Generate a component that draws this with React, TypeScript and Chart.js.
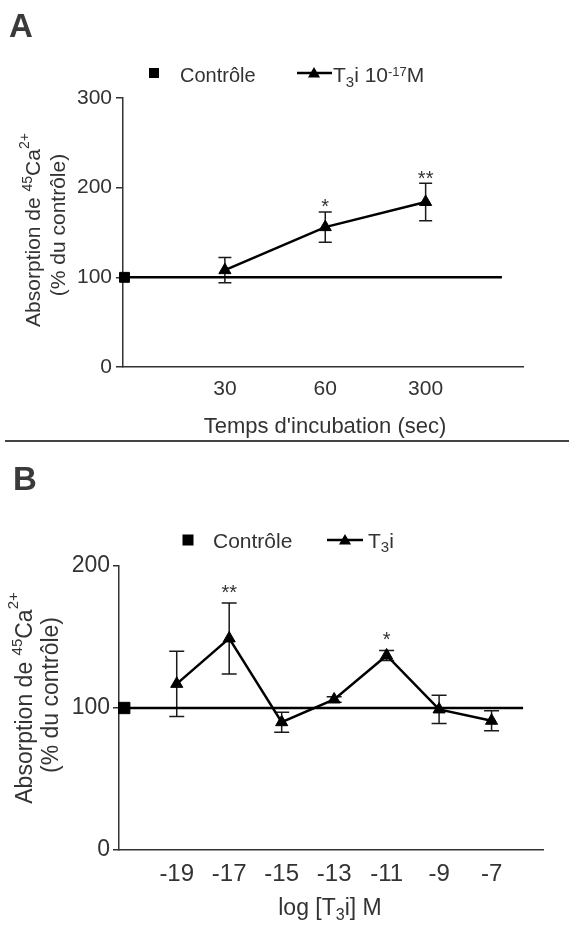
import React, { useEffect, useRef } from 'react';
import { Chart, registerables } from 'chart.js';

Chart.register(...registerables);

const FONT = "'Liberation Sans', Arial, Helvetica, sans-serif";
const INK = '#333333';

// ---------- Panel A data ----------
const timeLabelsA = ['30', '60', '300'];
const yTicksA = [0, 100, 200, 300];
const controlA = 100;
const controlEndA = 3.76;
const t3iA = [108, 156, 184];
const errA = [14, 17, 21];
const sigA = ['', '*', '**'];

// ---------- Panel B data ----------
const doseLabelsB = ['-19', '-17', '-15', '-13', '-11', '-9', '-7'];
const yTicksB = [0, 100, 200];
const controlB = 100;
const controlEndB = 7.6;
const t3iB = [117, 149, 90, 106, 137, 99, 91];
const errB = [23, 25, 7, 2, 3.5, 10, 7];
const sigB = ['', '**', '', '', '*', '', ''];

type Seg = { t: string; size: number; dy: number };

interface Panel {
  w: number; h: number;
  letter: string; letterX: number; letterY: number; letterSize: number;
  labels: string[]; yTicks: number[]; control: number; controlEnd: number;
  values: number[]; errs: number[]; sig: string[];
  yMax: number; xMin: number; xMax: number;
  padTop: number; padLeft: number; padRight: number; axisLeft: number; xAxisH: number;
  xTickSize: number; yTickSize: number; xTickPad: number; yTickPad: number; tickLen: number;
  xTitle: Seg[]; xTitleCX: number; xTitleBase: number;
  yTitle1: Seg[]; yTitle2: Seg[]; yTitleBase1: number; yTitleBase2: number; yTitleCY1: number; yTitleCY2: number;
  sqRadius: number; triRadius: number; cap: number; starSize: number; starGap: number;
  legend: {
    sqX: number; sq: number; symY: number; ctrlTextX: number; baseline: number; size: number;
    lineX0: number; lineX1: number; triX: number; triR: number; textX: number; segs: Seg[];
  };
}

function segsWidth(ctx: CanvasRenderingContext2D, segs: Seg[]) {
  let w = 0;
  for (const s of segs) {
    ctx.font = `${s.size}px ${FONT}`;
    w += ctx.measureText(s.t).width;
  }
  return w;
}

function drawSegs(ctx: CanvasRenderingContext2D, x: number, y: number, segs: Seg[]) {
  let cx = x;
  for (const s of segs) {
    ctx.font = `${s.size}px ${FONT}`;
    ctx.fillText(s.t, cx, y + s.dy);
    cx += ctx.measureText(s.t).width;
  }
}

function drawSegsCentered(ctx: CanvasRenderingContext2D, cx: number, y: number, segs: Seg[]) {
  const w = segsWidth(ctx, segs);
  drawSegs(ctx, cx - w / 2, y, segs);
}

function drawVertical(ctx: CanvasRenderingContext2D, baseX: number, cy: number, segs: Seg[]) {
  ctx.save();
  ctx.translate(baseX, cy);
  ctx.rotate(-Math.PI / 2);
  drawSegsCentered(ctx, 0, 0, segs);
  ctx.restore();
}

function triangle(ctx: CanvasRenderingContext2D, x: number, y: number, r: number) {
  ctx.beginPath();
  for (let k = 0; k < 3; k++) {
    const a = (k * 2 * Math.PI) / 3;
    const px = x + Math.sin(a) * r;
    const py = y - Math.cos(a) * r;
    if (k === 0) ctx.moveTo(px, py); else ctx.lineTo(px, py);
  }
  ctx.closePath();
  ctx.fill();
}

function makeChart(canvas: HTMLCanvasElement, p: Panel) {
  const xs = p.labels.map((_, i) => i + 1);
  const extras = {
    id: 'panelExtras',
    beforeDatasetsDraw(chart: any) {
      const { ctx, scales } = chart;
      const x = scales.x, y = scales.y;
      ctx.save();
      ctx.strokeStyle = '#1a1a1a';
      ctx.lineWidth = 1.5;
      p.values.forEach((v, i) => {
        const px = x.getPixelForValue(xs[i]);
        const top = y.getPixelForValue(v + p.errs[i]);
        const bot = y.getPixelForValue(v - p.errs[i]);
        ctx.beginPath();
        ctx.moveTo(px, top); ctx.lineTo(px, bot);
        ctx.moveTo(px - p.cap, top); ctx.lineTo(px + p.cap, top);
        ctx.moveTo(px - p.cap, bot); ctx.lineTo(px + p.cap, bot);
        ctx.stroke();
      });
      ctx.restore();
    },
    afterDraw(chart: any) {
      const { ctx, scales } = chart;
      const x = scales.x, y = scales.y;
      ctx.save();
      ctx.fillStyle = INK;
      ctx.textBaseline = 'alphabetic';
      // significance marks
      ctx.font = `${p.starSize}px ${FONT}`;
      ctx.textAlign = 'center';
      p.sig.forEach((s, i) => {
        if (!s) return;
        const px = x.getPixelForValue(xs[i]);
        const top = y.getPixelForValue(p.values[i] + p.errs[i]);
        ctx.fillText(s, px, top - p.starGap + 0.58 * p.starSize);
      });
      ctx.textAlign = 'left';
      // axis titles
      drawSegsCentered(ctx, p.xTitleCX, p.xTitleBase, p.xTitle);
      drawVertical(ctx, p.yTitleBase1, p.yTitleCY1, p.yTitle1);
      drawVertical(ctx, p.yTitleBase2, p.yTitleCY2, p.yTitle2);
      // panel letter
      ctx.font = `bold ${p.letterSize}px ${FONT}`;
      ctx.fillStyle = '#3a3a3a';
      ctx.fillText(p.letter, p.letterX, p.letterY);
      // legend
      const L = p.legend;
      ctx.fillStyle = '#000';
      ctx.fillRect(L.sqX - L.sq / 2, L.symY - L.sq / 2, L.sq, L.sq);
      ctx.strokeStyle = '#000';
      ctx.lineWidth = 2.5;
      ctx.beginPath();
      ctx.moveTo(L.lineX0, L.symY);
      ctx.lineTo(L.lineX1, L.symY);
      ctx.stroke();
      triangle(ctx, L.triX, L.symY + 1, L.triR);
      ctx.fillStyle = INK;
      ctx.font = `${L.size}px ${FONT}`;
      ctx.fillText('Contrôle', L.ctrlTextX, L.baseline);
      drawSegs(ctx, L.textX, L.baseline, L.segs);
      ctx.restore();
    },
  };

  return new Chart(canvas, {
    type: 'line',
    data: {
      datasets: [
        {
          label: 'Contrôle',
          data: [{ x: 0, y: p.control }, { x: p.controlEnd, y: p.control }],
          borderColor: '#000',
          borderWidth: 2.5,
          pointStyle: 'rect',
          pointRadius: [p.sqRadius, 0],
          pointBackgroundColor: '#000',
          pointBorderColor: '#000',
          pointBorderWidth: 1,
          clip: false,
        },
        {
          label: 'T3i',
          data: p.values.map((v, i) => ({ x: xs[i], y: v })),
          borderColor: '#000',
          borderWidth: 2.5,
          pointStyle: 'triangle',
          pointRadius: p.triRadius,
          pointBackgroundColor: '#000',
          pointBorderColor: '#000',
          pointBorderWidth: 1,
          clip: false,
        },
      ],
    },
    options: {
      animation: false,
      responsive: false,
      maintainAspectRatio: false,
      devicePixelRatio: 1,
      events: [],
      layout: { padding: { top: p.padTop, left: p.padLeft, right: p.padRight, bottom: 0 } },
      elements: { line: { tension: 0 } },
      plugins: { legend: { display: false }, tooltip: { enabled: false } },
      scales: {
        x: {
          type: 'linear',
          min: p.xMin,
          max: p.xMax,
          afterBuildTicks: (s: any) => { s.ticks = xs.map((v) => ({ value: v })); },
          afterFit: (s: any) => { s.height = p.xAxisH; },
          grid: { display: false, drawTicks: false },
          border: { display: true, color: INK, width: 1.5 },
          ticks: {
            callback: (v: any) => p.labels[Math.round(Number(v)) - 1] ?? '',
            font: { family: FONT, size: p.xTickSize },
            color: INK,
            padding: p.xTickPad,
            maxRotation: 0,
            autoSkip: false,
          },
        },
        y: {
          type: 'linear',
          min: 0,
          max: p.yMax,
          afterBuildTicks: (s: any) => { s.ticks = p.yTicks.map((v) => ({ value: v })); },
          afterFit: (s: any) => { s.width = p.axisLeft - p.padLeft; },
          grid: { drawOnChartArea: false, drawTicks: true, tickLength: p.tickLen, color: INK, lineWidth: 1.5 },
          border: { display: true, color: INK, width: 1.5 },
          ticks: { font: { family: FONT, size: p.yTickSize }, color: INK, padding: p.yTickPad },
        },
      },
    },
    plugins: [extras],
  } as any);
}

const panelA: Panel = {
  w: 569, h: 440,
  letter: 'A', letterX: 9, letterY: 37, letterSize: 33,
  labels: timeLabelsA, yTicks: yTicksA, control: controlA, controlEnd: controlEndA,
  values: t3iA, errs: errA, sig: sigA,
  yMax: 300, xMin: -0.015, xMax: 3.97,
  padTop: 98, padLeft: 14, padRight: 46, axisLeft: 123, xAxisH: 73,
  xTickSize: 21, yTickSize: 21, xTickPad: 10, yTickPad: 4, tickLen: 7,
  xTitle: [{ t: "Temps d'incubation (sec)", size: 22, dy: 0 }], xTitleCX: 325, xTitleBase: 433,
  yTitle1: [
    { t: 'Absorption de ', size: 21, dy: 0 },
    { t: '45', size: 14, dy: -8 },
    { t: 'Ca', size: 21, dy: 0 },
    { t: '2+', size: 14, dy: -11 },
  ],
  yTitle2: [{ t: '(% du contrôle)', size: 21, dy: 0 }],
  yTitleBase1: 40, yTitleBase2: 65, yTitleCY1: 230, yTitleCY2: 225,
  sqRadius: 7, triRadius: 7, cap: 6.5, starSize: 20, starGap: 10,
  legend: {
    sqX: 154, sq: 10, symY: 73, ctrlTextX: 180, baseline: 82, size: 20,
    lineX0: 297, lineX1: 332, triX: 314, triR: 7, textX: 333,
    segs: [
      { t: 'T', size: 21, dy: 0 },
      { t: '3', size: 15, dy: 5 },
      { t: 'i 10', size: 21, dy: 0 },
      { t: '-17', size: 13, dy: -6 },
      { t: 'M', size: 21, dy: 0 },
    ],
  },
};

const panelB: Panel = {
  w: 569, h: 482,
  letter: 'B', letterX: 13, letterY: 47, letterSize: 33,
  labels: doseLabelsB, yTicks: yTicksB, control: controlB, controlEnd: controlEndB,
  values: t3iB, errs: errB, sig: sigB,
  yMax: 200, xMin: -0.1, xMax: 7.98,
  padTop: 123, padLeft: 0, padRight: 26, axisLeft: 119, xAxisH: 75,
  xTickSize: 24, yTickSize: 23, xTickPad: 10, yTickPad: 3, tickLen: 6,
  xTitle: [
    { t: 'log [T', size: 23, dy: 0 },
    { t: '3', size: 16, dy: 5 },
    { t: 'i] M', size: 23, dy: 0 },
  ],
  xTitleCX: 330, xTitleBase: 472,
  yTitle1: [
    { t: 'Absorption de ', size: 23, dy: 0 },
    { t: '45', size: 15, dy: -10 },
    { t: 'Ca', size: 23, dy: 0 },
    { t: '2+', size: 15, dy: -14 },
  ],
  yTitle2: [{ t: '(% du contrôle)', size: 23, dy: 0 }],
  yTitleBase1: 32, yTitleBase2: 58, yTitleCY1: 255, yTitleCY2: 252,
  sqRadius: 8, triRadius: 7, cap: 7.5, starSize: 20, starGap: 16,
  legend: {
    sqX: 188, sq: 11, symY: 97, ctrlTextX: 213, baseline: 105, size: 21,
    lineX0: 327, lineX1: 363, triX: 345, triR: 7, textX: 368,
    segs: [
      { t: 'T', size: 21, dy: 0 },
      { t: '3', size: 15, dy: 4 },
      { t: 'i', size: 21, dy: 0 },
    ],
  },
};

function PanelChart({ panel, top }: { panel: Panel; top: number }) {
  const ref = useRef<HTMLCanvasElement | null>(null);
  useEffect(() => {
    if (!ref.current) return;
    const chart = makeChart(ref.current, panel);
    return () => chart.destroy();
  }, [panel]);
  return (
    <canvas
      ref={ref}
      width={panel.w}
      height={panel.h}
      style={{ position: 'absolute', left: 0, top, width: panel.w, height: panel.h }}
    />
  );
}

export default function App() {
  return (
    <div style={{ position: 'absolute', left: 0, top: 0, width: 569, height: 925, background: '#fff', overflow: 'hidden' }}>
      <PanelChart panel={panelA} top={0} />
      <div style={{ position: 'absolute', left: 5, top: 440, width: 564, height: 0, borderTop: '2px solid #444' }} />
      <PanelChart panel={panelB} top={443} />
    </div>
  );
}
